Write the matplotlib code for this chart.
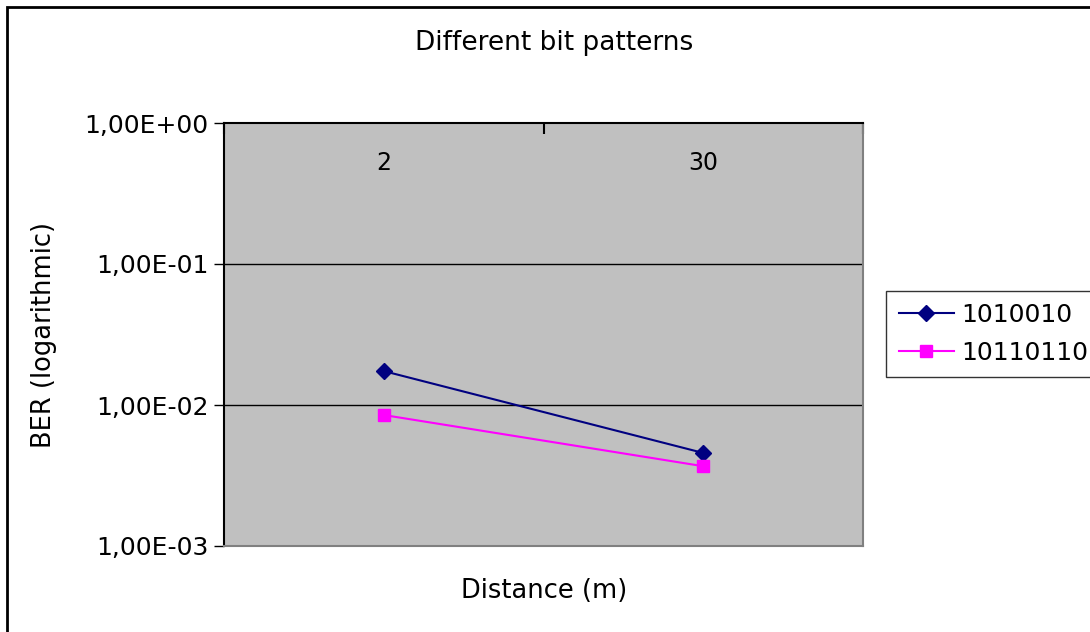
import matplotlib
matplotlib.use("Agg")
import matplotlib.pyplot as plt
from matplotlib.patches import Rectangle

distances = ["2", "30"]
ber_1010010 = [0.0174, 0.00457]
ber_10110110 = [0.00849, 0.00368]
y_ticks = [1e-3, 1e-2, 1e-1, 1e0]
y_tick_labels = ["1,00E-03", "1,00E-02", "1,00E-01", "1,00E+00"]

plt.rcParams["font.family"] = ["DejaVu Sans"]

fig = plt.figure(figsize=(10.9, 6.32), dpi=100)
ax = fig.add_axes([224 / 1090, 1 - 546 / 632, 639 / 1090, 423 / 632])
ax.set_facecolor("#C0C0C0")

x = list(range(len(distances)))
ax.plot(x, ber_1010010, color="#000080", marker="D", markersize=8, lw=1.5, label="1010010")
ax.plot(x, ber_10110110, color="#FF00FF", marker="s", markersize=8, lw=1.5, label="10110110")

ax.set_yscale("log")
ax.set_ylim(1e-3, 1e0)
ax.set_yticks(y_ticks)
ax.set_yticklabels(y_tick_labels, fontsize=18)
ax.yaxis.set_minor_locator(matplotlib.ticker.NullLocator())
ax.tick_params(axis="y", direction="out", length=7, width=1, pad=4)
for yv in y_ticks[1:-1]:
    ax.axhline(yv, color="black", lw=1, zorder=1)

ax.set_xlim(-0.5, len(distances) - 0.5)
ax.xaxis.tick_top()
ax.set_xticks([i - 0.5 for i in range(len(distances) + 1)])
ax.set_xticklabels([])
ax.tick_params(axis="x", direction="in", length=8, width=1.5)
for xi, lab in zip(x, distances):
    ax.text(xi, 0.905, lab, transform=ax.get_xaxis_transform(), ha="center", va="center", fontsize=17)

ax.spines["top"].set_linewidth(1.5)
ax.spines["left"].set_linewidth(1.5)
ax.spines["right"].set_color("#808080")
ax.spines["bottom"].set_color("#808080")
ax.spines["right"].set_linewidth(1.5)
ax.spines["bottom"].set_linewidth(1.5)

ax.set_ylabel("BER (logarithmic)", fontsize=18.5, labelpad=20)
fig.text(544 / 1090, 1 - 591 / 632, "Distance (m)", ha="center", va="center", fontsize=18.5)
fig.text(554 / 1090, 1 - 43 / 632, "Different bit patterns", ha="center", va="center", fontsize=19)

leg = ax.legend(loc="center left", bbox_to_anchor=(886 / 1090, 1 - 334 / 632), bbox_transform=fig.transFigure,
                fontsize=18, frameon=True, fancybox=False, edgecolor="black", borderpad=0.5,
                handlelength=2.2, handletextpad=0.3, labelspacing=0.55, borderaxespad=0)
leg.get_frame().set_linewidth(1)

fig.patches.append(Rectangle((7 / 1090, -0.1), 1.2, 1 - 7 / 632 + 0.1, transform=fig.transFigure,
                             fill=False, edgecolor="black", lw=2))

fig.savefig("out.png", dpi=100)
